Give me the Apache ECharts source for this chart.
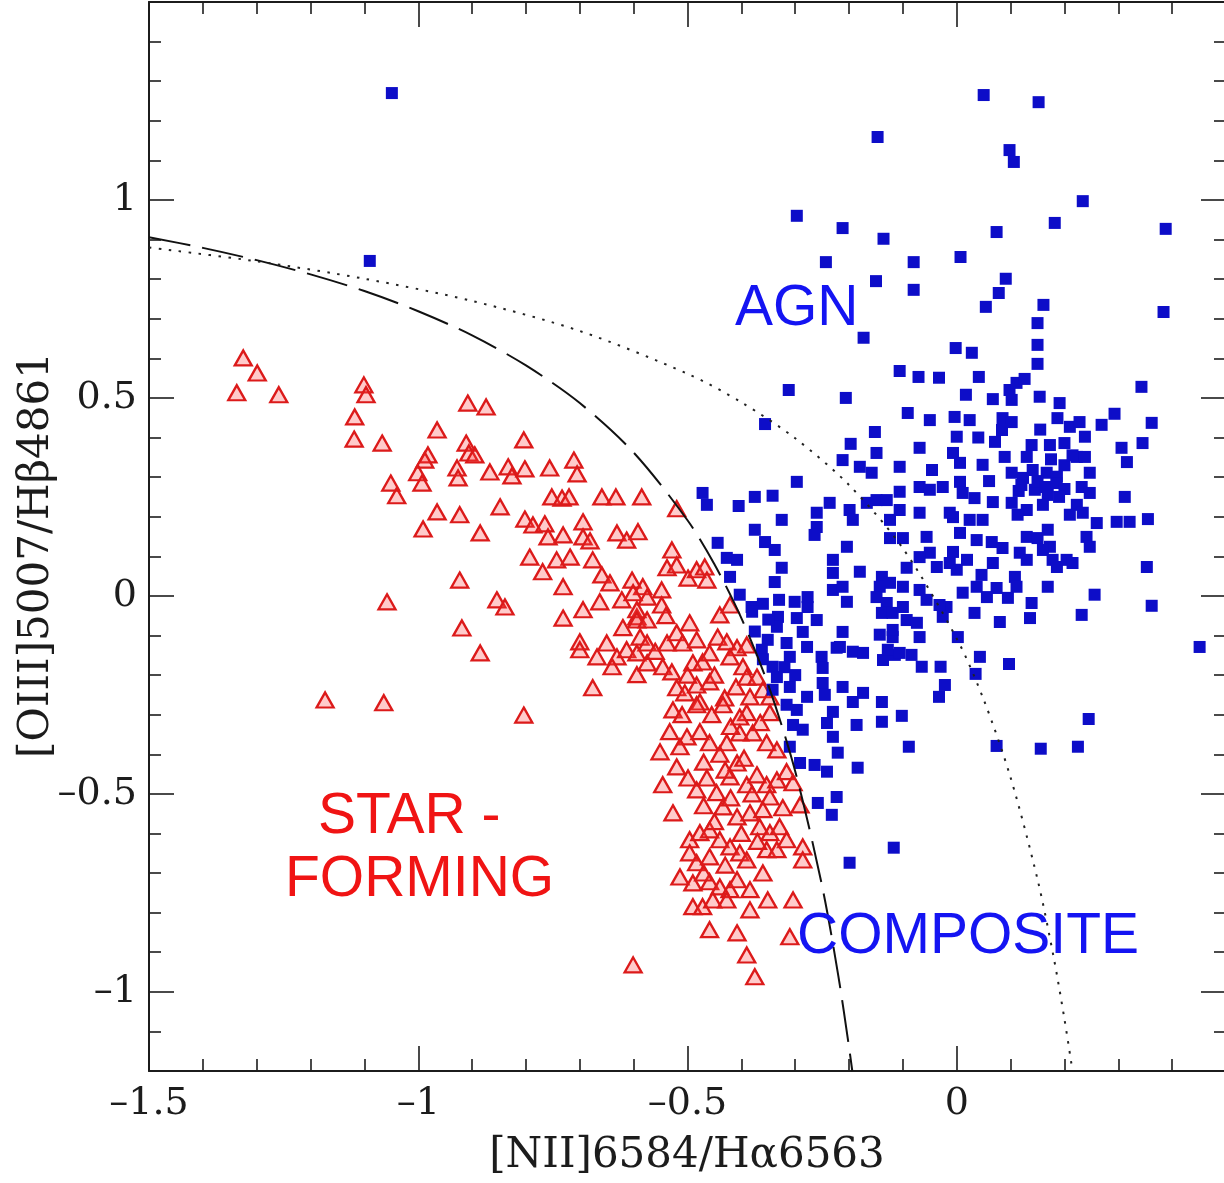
<!DOCTYPE html>
<html>
<head>
<meta charset="utf-8">
<title>BPT diagram</title>
<script src="https://cdn.jsdelivr.net/npm/echarts@6/dist/echarts.min.js"></script>
<style>
  html, body { margin: 0; padding: 0; background: #ffffff; }
  #chart { width: 1224px; height: 1183px; }
</style>
</head>
<body>
<div id="chart"></div>
<script>
// log([NII]/Halpha), log([OIII]/Hbeta) pairs
const starForming = [
  [-1.325,0.601],[-1.299,0.563],[-1.337,0.513],[-1.259,0.508],[-1.101,0.533],[-1.097,0.508],[-1.118,0.452],[-1.119,0.396],
  [-1.067,0.386],[-0.965,0.419],[-0.982,0.356],[-0.988,0.343],[-1.001,0.311],[-0.993,0.285],[-1.051,0.285],[-1.040,0.253],
  [-0.965,0.212],[-0.991,0.169],[-1.058,-0.015],[-1.173,-0.263],[-1.064,-0.270],[-0.908,0.487],[-0.874,0.477],[-0.804,0.394],
  [-0.911,0.386],[-0.906,0.361],[-0.895,0.356],[-0.928,0.323],[-0.926,0.298],[-0.867,0.313],[-0.833,0.326],[-0.826,0.303],
  [-0.802,0.321],[-0.756,0.323],[-0.711,0.343],[-0.705,0.308],[-0.752,0.250],[-0.733,0.247],[-0.720,0.250],[-0.659,0.250],
  [-0.633,0.250],[-0.585,0.250],[-0.923,0.205],[-0.848,0.225],[-0.885,0.159],[-0.802,0.194],[-0.787,0.179],[-0.765,0.182],
  [-0.759,0.149],[-0.731,0.154],[-0.694,0.187],[-0.694,0.149],[-0.681,0.139],[-0.631,0.159],[-0.613,0.141],[-0.592,0.162],
  [-0.793,0.098],[-0.769,0.061],[-0.743,0.091],[-0.718,0.098],[-0.676,0.091],[-0.659,0.053],[-0.644,0.033],[-0.603,0.040],
  [-0.583,0.023],[-0.923,0.040],[-0.731,0.023],[-0.854,-0.010],[-0.839,-0.028],[-0.694,-0.035],[-0.663,-0.015],[-0.622,-0.010],
  [-0.731,-0.056],[-0.594,-0.053],[-0.919,-0.081],[-0.700,-0.116],[-0.700,-0.136],[-0.668,-0.154],[-0.650,-0.119],[-0.631,-0.154],
  [-0.613,-0.136],[-0.594,-0.144],[-0.640,-0.179],[-0.594,-0.199],[-0.885,-0.144],[-0.676,-0.232],[-0.804,-0.301],
  [-0.520,0.220],[-0.529,0.116],[-0.538,0.071],[-0.520,0.078],[-0.499,0.045],[-0.483,0.066],[-0.468,0.073],[-0.464,0.040],
  [-0.601,0.008],[-0.575,-0.003],[-0.548,0.015],[-0.548,-0.023],[-0.594,-0.035],[-0.594,-0.061],[-0.575,-0.061],[-0.440,-0.048],
  [-0.421,-0.023],[-0.496,-0.068],[-0.520,-0.093],[-0.538,-0.119],[-0.509,-0.119],[-0.483,-0.111],[-0.444,-0.104],[-0.427,-0.116],
  [-0.408,-0.131],[-0.390,-0.124],[-0.588,-0.104],[-0.575,-0.119],[-0.575,-0.169],[-0.546,-0.179],[-0.529,-0.192],[-0.490,-0.169],
  [-0.472,-0.167],[-0.459,-0.144],[-0.421,-0.154],[-0.397,-0.179],[-0.390,-0.205],[-0.371,-0.205],[-0.520,-0.232],[-0.505,-0.245],
  [-0.483,-0.225],[-0.459,-0.217],[-0.431,-0.258],[-0.384,-0.255],[-0.360,-0.237],[-0.347,-0.255],[-0.477,-0.268],
  [-0.527,-0.288],[-0.483,-0.275],[-0.434,-0.275],[-0.390,-0.295],[-0.347,-0.295],[-0.551,-0.394],[-0.533,-0.343],[-0.501,-0.356],
  [-0.514,-0.381],[-0.477,-0.343],[-0.459,-0.371],[-0.427,-0.371],[-0.403,-0.306],[-0.403,-0.346],[-0.379,-0.346],[-0.353,-0.371],
  [-0.334,-0.389],[-0.520,-0.432],[-0.546,-0.477],[-0.499,-0.460],[-0.483,-0.490],[-0.464,-0.460],[-0.446,-0.497],[-0.421,-0.457],
  [-0.408,-0.422],[-0.390,-0.477],[-0.371,-0.452],[-0.353,-0.477],[-0.334,-0.465],[-0.316,-0.444],[-0.304,-0.472],[-0.347,-0.508],
  [-0.323,-0.535],[-0.291,-0.528],[-0.527,-0.548],[-0.434,-0.533],[-0.408,-0.558],[-0.384,-0.548],[-0.366,-0.583],[-0.347,-0.598],
  [-0.329,-0.583],[-0.316,-0.616],[-0.496,-0.616],[-0.477,-0.598],[-0.459,-0.591],[-0.440,-0.616],[-0.421,-0.634],[-0.496,-0.649],
  [-0.483,-0.674],[-0.459,-0.659],[-0.403,-0.649],[-0.390,-0.667],[-0.353,-0.641],[-0.334,-0.641],[-0.286,-0.634],[-0.286,-0.667],
  [-0.514,-0.710],[-0.490,-0.725],[-0.459,-0.722],[-0.440,-0.735],[-0.421,-0.742],[-0.408,-0.717],[-0.384,-0.742],[-0.490,-0.785],
  [-0.472,-0.785],[-0.453,-0.768],[-0.427,-0.768],[-0.384,-0.793],[-0.351,-0.768],[-0.304,-0.768],[-0.459,-0.843],[-0.408,-0.851],
  [-0.310,-0.861],[-0.390,-0.907],[-0.375,-0.962],[-0.601,-0.932],
  [-0.510,-0.300],[-0.455,-0.300],[-0.420,-0.330],[-0.365,-0.320],[-0.440,-0.400],[-0.395,-0.410],[-0.470,-0.420],[-0.430,-0.440],
  [-0.380,-0.500],[-0.420,-0.510],[-0.470,-0.530],[-0.360,-0.540],[-0.450,-0.570],[-0.400,-0.600],[-0.370,-0.620],[-0.430,-0.680],
  [-0.470,-0.700],[-0.360,-0.700],[-0.450,-0.200],[-0.410,-0.230],[-0.500,-0.200],[-0.560,-0.140],[-0.540,-0.050],[-0.620,-0.080]
];

const agnComposite = [
  [-1.049,1.270],[-1.090,0.846],[0.050,1.265],[0.152,1.247],[-0.147,1.159],[0.098,1.126],[0.106,1.096],[0.234,0.997],
  [-0.297,0.960],[-0.212,0.929],[-0.136,0.902],[0.074,0.919],[0.182,0.942],[0.388,0.927],[-0.243,0.843],[-0.080,0.843],
  [0.007,0.856],[-0.150,0.795],[-0.080,0.773],[0.091,0.801],[0.078,0.765],[0.054,0.730],[0.161,0.735],[0.384,0.717],
  [0.150,0.689],[-0.173,0.652],[-0.002,0.626],[0.028,0.614],[0.150,0.634],
  [0.150,0.586],[0.041,0.553],[0.017,0.508],[0.067,0.497],[0.102,0.495],[0.098,0.520],[0.111,0.538],[0.126,0.548],
  [0.154,0.503],[0.191,0.487],[0.343,0.528],[0.293,0.460],[0.269,0.432],[0.362,0.437],[0.345,0.386],[0.238,0.402],
  [0.210,0.427],[0.228,0.439],[0.187,0.449],[0.200,0.386],[0.173,0.381],[0.139,0.381],[0.130,0.351],[0.306,0.374],
  [0.316,0.338],[0.223,0.351],[0.238,0.351],[0.247,0.311],[0.232,0.275],[0.247,0.260],[0.312,0.250],[-0.004,0.452],
  [0.024,0.444],[0.000,0.402],[0.085,0.449],[0.102,0.439],[0.084,0.419],[0.071,0.389],[0.089,0.351],[0.048,0.331],
  [0.006,0.336],[-0.007,0.361],[0.006,0.288],[0.011,0.260],[0.033,0.247],[0.067,0.237],[0.102,0.235],[0.102,0.311],
  [0.123,0.298],[0.141,0.318],[0.167,0.311],[0.186,0.301],[0.145,0.268],[0.169,0.255],[0.130,0.217],[0.113,0.205],
  [0.223,0.230],[0.234,0.210],[0.210,0.205],[0.260,0.184],[0.297,0.187],[0.321,0.187],[0.355,0.194],[-0.007,0.199],
  [0.024,0.192],[0.048,0.192],[0.006,0.159],[0.037,0.141],[0.065,0.136],[0.085,0.121],[0.130,0.149],[0.150,0.146],
  [0.169,0.167],[0.173,0.124],[0.241,0.149],[0.247,0.124],[0.117,0.109],[0.130,0.091],[0.160,0.116],[0.178,0.091],
  [0.186,0.073],[0.204,0.091],[0.215,0.083],[-0.007,0.111],[0.019,0.091],[0.000,0.066],[0.046,0.053],[0.067,0.083],
  [0.108,0.048],[0.111,0.023],[0.074,0.020],[0.037,0.023],[0.011,0.008],[0.056,-0.003],[0.095,-0.005],[0.169,0.023],
  [0.139,-0.018],[0.136,-0.056],[0.033,-0.043],[0.080,-0.066],[0.232,-0.048],[0.256,0.003],[0.353,0.073],[0.362,-0.025],
  [0.451,-0.129],[0.002,-0.104],[-0.019,-0.028],[-0.069,-0.104],[-0.119,-0.104],[-0.115,-0.149],[-0.084,-0.149],[-0.137,-0.162],
  [-0.065,-0.179],[-0.030,-0.179],[0.043,-0.154],[0.097,-0.172],[0.035,-0.197],[-0.022,-0.225],[-0.033,-0.255],[-0.102,-0.303],
  [-0.139,-0.268],[-0.139,-0.318],[-0.089,-0.381],[0.074,-0.379],[0.156,-0.386],[0.225,-0.381],[0.245,-0.311],[-0.117,-0.636],
  [-0.472,0.260],[-0.464,0.230],[-0.405,0.227],[-0.375,0.250],[-0.342,0.253],[-0.297,0.288],[-0.212,0.343],[-0.180,0.326],
  [-0.158,0.311],[-0.149,0.361],[-0.106,0.326],[-0.046,0.318],[-0.069,0.275],[-0.050,0.268],[-0.026,0.275],[-0.106,0.263],
  [-0.013,0.210],[-0.069,0.210],[-0.106,0.217],[-0.124,0.192],[-0.124,0.146],[-0.100,0.146],[-0.056,0.149],[-0.050,0.109],
  [-0.069,0.098],[-0.093,0.071],[-0.037,0.073],[-0.013,0.083],[-0.236,0.235],[-0.199,0.217],[-0.167,0.235],[-0.149,0.242],
  [-0.130,0.242],[-0.260,0.210],[-0.193,0.192],[-0.260,0.174],[-0.264,0.154],[-0.325,0.192],[-0.375,0.167],[-0.356,0.136],
  [-0.338,0.116],[-0.444,0.134],[-0.427,0.096],[-0.408,0.091],[-0.421,0.048],[-0.325,0.071],[-0.338,0.035],[-0.230,0.091],
  [-0.230,0.058],[-0.204,0.124],[-0.180,0.061],[-0.403,0.003],[-0.381,-0.028],[-0.360,-0.020],[-0.332,-0.053],[-0.297,-0.056],
  [-0.301,-0.015],[-0.277,-0.003],[-0.277,-0.028],[-0.260,-0.061],[-0.230,0.015],[-0.212,0.023],[-0.204,-0.015],[-0.139,0.048],
  [-0.143,0.023],[-0.149,-0.003],[-0.130,-0.018],[-0.139,-0.043],[-0.119,-0.043],[-0.100,-0.028],[-0.124,0.033],[-0.100,0.023],
  [-0.069,0.015],[-0.056,-0.010],[-0.032,-0.023],[-0.026,-0.053],[-0.093,-0.061],[-0.074,-0.068],[-0.119,-0.086],[-0.212,-0.091],
  [-0.217,-0.129],[-0.193,-0.141],[-0.174,-0.144],[-0.143,-0.098],[-0.128,-0.136],[-0.106,-0.144],[-0.334,-0.078],[-0.351,-0.111],
  [-0.316,-0.119],[-0.310,-0.154],[-0.286,-0.091],[-0.278,-0.129],[-0.362,-0.136],[-0.342,-0.179],[-0.251,-0.154],[-0.249,-0.182],
  [-0.334,-0.205],[-0.342,-0.237],[-0.310,-0.230],[-0.316,-0.275],[-0.278,-0.255],[-0.297,-0.288],[-0.304,-0.326],[-0.286,-0.338],
  [-0.310,-0.381],[-0.291,-0.422],[-0.264,-0.427],[-0.241,-0.444],[-0.258,-0.523],[-0.223,-0.508],[-0.232,-0.553],[-0.249,-0.220],
  [-0.245,-0.250],[-0.223,-0.131],[-0.212,-0.230],[-0.193,-0.268],[-0.174,-0.245],[-0.186,-0.326],[-0.230,-0.293],[-0.241,-0.321],
  [-0.230,-0.356],[-0.221,-0.396],[-0.184,-0.434],[-0.199,-0.674],
  [-0.312,0.520],[-0.356,0.434],[-0.206,0.500],[-0.106,0.568],[-0.071,0.553],[-0.033,0.551],[-0.197,0.384],[-0.152,0.414],
  [-0.091,0.462],[-0.050,0.444],[-0.069,0.374],
  [0.120,0.280],[0.150,0.290],[0.165,0.275],[0.185,0.285],[0.200,0.270],[0.190,0.250],[0.160,0.230],[0.200,0.330],
  [0.175,0.345],[0.215,0.355],[0.115,0.265],[0.060,0.290],[0.040,0.400],[0.155,0.420],[-0.330,-0.010],[-0.350,-0.060],
  [-0.375,-0.090],[-0.380,-0.040],[-0.360,-0.160],[-0.320,-0.180],[-0.300,-0.200]
];

// Kauffmann et al. (2003) demarcation, long dashes
const kauffmannLine = [
  [-1.5,0.906],[-1.4,0.879],[-1.3,0.848],[-1.2,0.812],[-1.1,0.770],[-1.0,0.719],[-0.9,0.658],[-0.8,0.582],
  [-0.7,0.487],[-0.6,0.362],[-0.5,0.191],[-0.45,0.080],[-0.4,-0.056],[-0.35,-0.225],[-0.3,-0.443],[-0.25,-0.733],
  [-0.22,-0.959],[-0.2,-1.140],[-0.194,-1.200]
];

// Kewley et al. (2001) maximum-starburst line, dotted
const kewleyLine = [
  [-1.5,0.880],[-1.3,0.845],[-1.1,0.801],[-0.9,0.745],[-0.7,0.669],[-0.5,0.561],[-0.4,0.489],[-0.3,0.398],
  [-0.2,0.280],[-0.1,0.120],[0.0,-0.108],[0.05,-0.262],[0.1,-0.459],[0.15,-0.716],[0.18,-0.913],[0.2,-1.069],
  [0.215,-1.200]
];

const xMajorTicks = [-1.5, -1, -0.5, 0, 0.5];
const xLabelValues = [-1.5, -1, -0.5, 0];
const xMinorTicks = [-1.4,-1.3,-1.2,-1.1,-0.9,-0.8,-0.7,-0.6,-0.4,-0.3,-0.2,-0.1,0.1,0.2,0.3,0.4];
const yMajorTicks = [-1, -0.5, 0, 0.5, 1];
const yMinorTicks = [-1.1,-0.9,-0.8,-0.7,-0.6,-0.4,-0.3,-0.2,-0.1,0.1,0.2,0.3,0.4,0.6,0.7,0.8,0.9,1.1,1.2,1.3,1.4];

const X_RANGE = [-1.5, 0.5];
const Y_RANGE = [-1.2, 1.5];

const serif = '"DejaVu Serif", "Liberation Serif", serif';
const sans = '"Liberation Sans", Arial, sans-serif';
const ink = '#1c1c1c';

function fmt(v) {
  return (v < 0 ? '\u2013' : '') + Math.abs(v);
}

// one axis layer: a set of inward ticks at given values, optionally with the frame line and labels
function makeAxis(dim, position, ticks, tickLen, withLine, labelValues) {
  const range = dim === 'x' ? X_RANGE : Y_RANGE;
  return {
    type: 'value',
    position: position,
    min: range[0],
    max: range[1],
    axisLine: { show: withLine, onZero: false, lineStyle: { color: ink, width: 2 } },
    axisTick: {
      show: true, inside: true, length: tickLen, customValues: ticks,
      lineStyle: { color: ink, width: 1.6 }
    },
    minorTick: { show: false },
    splitLine: { show: false },
    axisLabel: labelValues ? {
      show: true, customValues: labelValues, formatter: fmt,
      fontFamily: serif, fontSize: 38, color: ink,
      margin: dim === 'x' ? 14 : 12
    } : { show: false }
  };
}

const chart = echarts.init(document.getElementById('chart'), null, { renderer: 'canvas' });

chart.setOption({
  animation: false,
  backgroundColor: '#ffffff',
  grid: { left: 149, top: 2, width: 1077, height: 1069, containLabel: false, outerBoundsMode: 'none' },
  xAxis: [
    makeAxis('x', 'bottom', xMajorTicks, 25, true, xLabelValues),
    makeAxis('x', 'bottom', xMinorTicks, 12, false, null),
    makeAxis('x', 'top', xMajorTicks, 25, true, null),
    makeAxis('x', 'top', xMinorTicks, 12, false, null)
  ],
  yAxis: [
    makeAxis('y', 'left', yMajorTicks, 25, true, yMajorTicks),
    makeAxis('y', 'left', yMinorTicks, 12, false, null),
    makeAxis('y', 'right', yMajorTicks, 25, true, null),
    makeAxis('y', 'right', yMinorTicks, 12, false, null)
  ],
  series: [
    {
      name: 'Star-forming',
      type: 'scatter',
      xAxisIndex: 0, yAxisIndex: 0,
      data: starForming,
      symbol: 'triangle',
      symbolSize: [17, 15],
      silent: true,
      itemStyle: { color: 'rgba(255,70,70,0.28)', borderColor: '#dc1a1a', borderWidth: 2.3, opacity: 1 },
      z: 2
    },
    {
      name: 'AGN / composite',
      type: 'scatter',
      xAxisIndex: 0, yAxisIndex: 0,
      data: agnComposite,
      symbol: 'rect',
      symbolSize: 12,
      silent: true,
      itemStyle: { color: '#0d0dc8', opacity: 1 },
      z: 3
    },
    {
      name: 'Kauffmann 2003',
      type: 'line',
      xAxisIndex: 0, yAxisIndex: 0,
      data: kauffmannLine,
      smooth: 0.3,
      showSymbol: false,
      silent: true,
      lineStyle: { color: '#111', width: 2, type: [42, 12] },
      z: 4
    },
    {
      name: 'Kewley 2001',
      type: 'line',
      xAxisIndex: 0, yAxisIndex: 0,
      data: kewleyLine,
      smooth: 0.3,
      showSymbol: false,
      silent: true,
      lineStyle: { color: '#222', width: 2, type: [2.5, 7.5] },
      z: 4
    }
  ],
  graphic: [
    { type: 'text', x: 687, y: 1156, z: 10,
      style: { text: '[NII]6584/H\u03b16563', align: 'center', verticalAlign: 'middle',
               font: '42px ' + serif, fill: ink } },
    { type: 'text', x: 37, y: 555, rotation: Math.PI / 2, z: 10,
      style: { text: '[OIII]5007/H\u03b24861', align: 'center', verticalAlign: 'middle',
               font: '42px ' + serif, fill: ink } },
    { type: 'text', x: 735, y: 309, z: 10,
      style: { text: 'AGN', align: 'left', verticalAlign: 'middle', font: '57px ' + sans, fill: '#1414f2' } },
    { type: 'text', x: 318, y: 817, z: 10,
      style: { text: 'STAR -', align: 'left', verticalAlign: 'middle', font: '57px ' + sans, fill: '#f01414' } },
    { type: 'text', x: 285, y: 880, z: 10,
      style: { text: 'FORMING', align: 'left', verticalAlign: 'middle', font: '57px ' + sans, fill: '#f01414' } },
    { type: 'text', x: 797, y: 937, z: 10,
      style: { text: 'COMPOSITE', align: 'left', verticalAlign: 'middle', font: '57px ' + sans, fill: '#1414f2' } }
  ]
});
</script>
</body>
</html>
